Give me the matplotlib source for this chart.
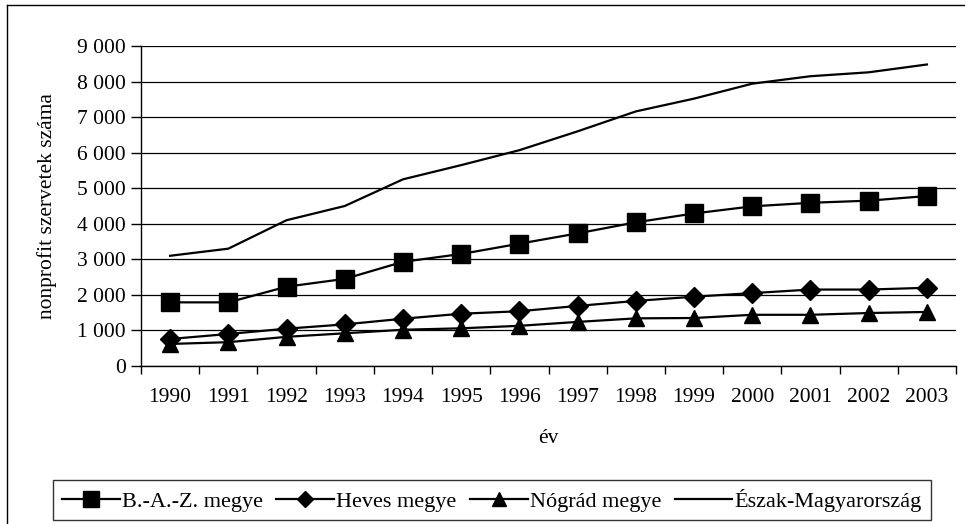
import matplotlib.pyplot as plt
from matplotlib.ticker import FuncFormatter
from matplotlib.lines import Line2D

years = ["1990", "1991", "1992", "1993", "1994", "1995", "1996",
         "1997", "1998", "1999", "2000", "2001", "2002", "2003"]
baz = [1790, 1790, 2230, 2450, 2930, 3150, 3440, 3730, 4040, 4290, 4490, 4590, 4650, 4780]
heves = [760, 900, 1050, 1170, 1330, 1470, 1540, 1690, 1830, 1950, 2050, 2150, 2150, 2200]
nograd = [620, 670, 820, 920, 1020, 1060, 1130, 1240, 1340, 1350, 1440, 1440, 1490, 1520]
eszak = [3100, 3300, 4100, 4500, 5250, 5650, 6070, 6600, 7160, 7520, 7940, 8150, 8260, 8480]
labels = ["B.-A.-Z. megye", "Heves megye", "Nógrád megye", "Észak-Magyarország"]

plt.rcParams['font.family'] = ['Liberation Serif', 'DejaVu Serif']

fig = plt.figure(figsize=(9.65, 5.24), dpi=100)
ax = fig.add_axes([141 / 965, 1 - 366 / 524, (956 - 141) / 965, (366 - 46) / 524])

# outer frame (only top and left visible in the original)
fig.add_artist(Line2D([7 / 965, 7 / 965], [0, 1 - 5 / 524], transform=fig.transFigure,
                      color="black", lw=1))
fig.add_artist(Line2D([7 / 965, 1], [1 - 5 / 524, 1 - 5 / 524], transform=fig.transFigure,
                      color="black", lw=1))

x = list(range(len(years)))
ax.plot(x, baz, color="black", lw=1.6, marker="s", ms=13.5, label=labels[0])
ax.plot(x, heves, color="black", lw=1.6, marker="D", ms=10, label=labels[1])
ax.plot(x, nograd, color="black", lw=1.6, marker="^", ms=11.5, label=labels[2])
ax.plot(x, eszak, color="black", lw=1.6, label=labels[3])

ax.set_xlim(-0.5, len(years) - 0.5)
ax.set_ylim(0, 9000)
ax.set_yticks(range(0, 9001, 1000))
ax.yaxis.set_major_formatter(FuncFormatter(lambda v, p: f"{int(v):,}".replace(",", " ")))
ax.set_xticks(x)
ax.set_xticklabels(years)
ax.set_xticks([i - 0.5 for i in range(len(years) + 1)], minor=True)
ax.tick_params(axis="x", which="major", length=0, pad=16, labelsize=15.5)
ax.tick_params(axis="x", which="minor", length=6, width=1, direction="out")
ax.tick_params(axis="y", length=7, width=1, direction="out", pad=4, labelsize=15.5)

ax.grid(axis="y", color="black", lw=0.9)
ax.set_axisbelow(True)
for s in ["top", "right"]:
    ax.spines[s].set_visible(False)
ax.spines["left"].set_linewidth(1)
ax.spines["bottom"].set_linewidth(1)

ax.set_xlabel("év", fontsize=15.5, labelpad=16)
ax.set_ylabel("nonprofit szervetek száma", fontsize=15.5, labelpad=14)

leg = fig.legend(loc="center", bbox_to_anchor=(492 / 965, 1 - 500 / 524), ncol=4,
                 fontsize=16, frameon=True, fancybox=False, edgecolor="black",
                 handlelength=2.6, handletextpad=0.1, columnspacing=0.6,
                 borderpad=0.4, borderaxespad=0, markerscale=0.85)
leg.get_frame().set_linewidth(1)

fig.savefig("out.png", dpi=100)
